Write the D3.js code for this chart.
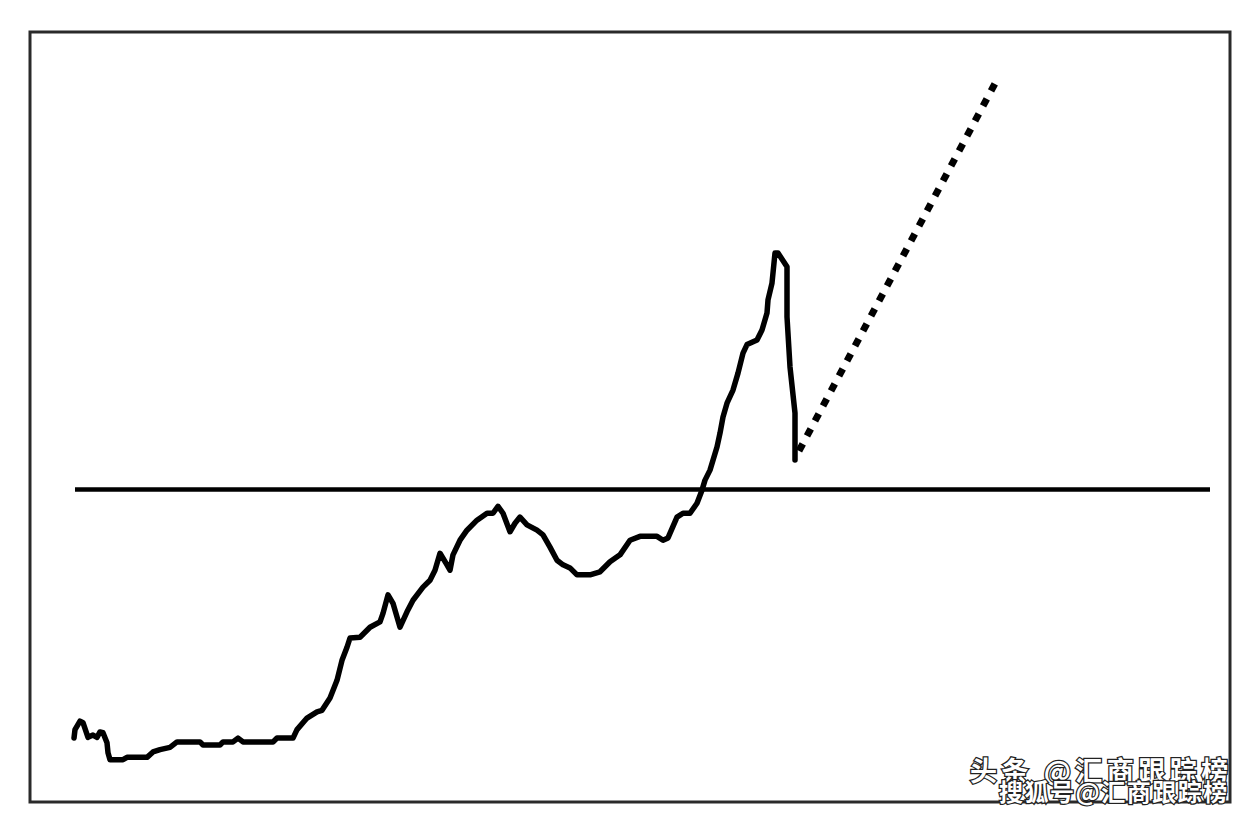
<!DOCTYPE html>
<html><head><meta charset="utf-8">
<script src="https://cdn.jsdelivr.net/npm/d3@7"></script>
<style>html,body{margin:0;padding:0;background:#fff;}svg{display:block;}</style>
</head><body>
<svg id="c" width="1256" height="820"></svg>
<script>
// time index (arbitrary units) and price level
const periods = [44,45,50,53,58,63,67,70,73,77,78,80,93,97,117,123,130,140,147,170,173,190,193,203,208,213,243,247,263,267,277,287,292,300,307,312,317,320,330,340,350,353,358,363,370,377,383,393,400,405,410,417,420,423,430,437,447,457,463,468,473,480,485,490,497,507,513,520,527,533,540,547,560,570,580,590,600,610,627,633,638,647,653,660,667,672,675,680,687,690,693,697,703,708,713,717,727,732,737,738,742,745,748,757,757,760,765,765];
const values  = [8.3,9.4,10.5,10.3,8.4,8.7,8.4,9.1,9.0,7.7,6.4,5.5,5.5,5.8,5.8,6.5,6.8,7.1,7.8,7.8,7.4,7.4,7.8,7.8,8.3,7.8,7.8,8.3,8.3,9.4,10.9,11.7,11.9,13.5,15.8,18.4,20.1,21.3,21.4,22.7,23.4,24.5,26.9,25.8,22.7,24.7,26.2,27.9,28.8,30.1,32.3,30.8,30.1,32.1,34.0,35.3,36.6,37.5,37.5,38.4,37.5,35.1,36.2,37.0,36.0,35.3,34.7,33.1,31.4,30.8,30.4,29.5,29.5,29.9,31.2,32.1,34.0,34.5,34.5,34.0,34.3,37.0,37.5,37.5,38.8,40.5,41.8,43.1,46.1,47.9,50.0,51.8,53.5,55.7,58.3,59.4,60.0,61.3,63.5,65.2,67.4,71.3,71.3,69.5,63.0,56.5,50.5,44.4];
const forecastPeriods = [769,967];
const forecastValues  = [45.6,93.8];
const refLevel = 40.6;
const refSpan = [45,1180];
const watermarks = ["头条 @汇商跟踪榜","搜狐号@汇商跟踪榜"];

const svg = d3.select("#c");
const x = d3.scaleLinear().domain([0,1200]).range([30,1230]);
const y = d3.scaleLinear().domain([0,100]).range([802,32]);

svg.append("rect").attr("width",1256).attr("height",820).attr("fill","#fff");
svg.append("rect").attr("x",x(0)).attr("y",y(100)).attr("width",x(1200)-x(0)).attr("height",y(0)-y(100))
  .attr("fill","none").attr("stroke","#2a2a2a").attr("stroke-width",3);

svg.append("line").attr("x1",x(refSpan[0])).attr("x2",x(refSpan[1])).attr("y1",y(refLevel)).attr("y2",y(refLevel))
  .attr("stroke","#000").attr("stroke-width",4.5);

const line = d3.line().x(d=>x(d[0])).y(d=>y(d[1])).curve(d3.curveLinear);
svg.append("path").datum(periods.map((p,i)=>[p,values[i]]))
  .attr("d",line).attr("fill","none").attr("stroke","#000").attr("stroke-width",5.5)
  .attr("stroke-linejoin","round").attr("stroke-linecap","round");

svg.append("path").datum(forecastPeriods.map((p,i)=>[p,forecastValues[i]]))
  .attr("d",line).attr("fill","none").attr("stroke","#000").attr("stroke-width",7)
  .attr("stroke-dasharray","8,9");

const wm = svg.append("g").attr("font-family","'Noto Sans CJK SC', sans-serif").attr("font-weight","bold");
wm.append("text").attr("x",970).attr("y",781).attr("font-size",27).attr("letter-spacing",4.5)
  .attr("fill","#fff").attr("stroke","#222").attr("stroke-width",2.5).attr("paint-order","stroke").text(watermarks[0]);
wm.append("text").attr("x",999).attr("y",801).attr("font-size",24).attr("letter-spacing",1.5)
  .attr("fill","#fff").attr("stroke","#222").attr("stroke-width",2.5).attr("paint-order","stroke").text(watermarks[1]);
</script>
</body></html>
